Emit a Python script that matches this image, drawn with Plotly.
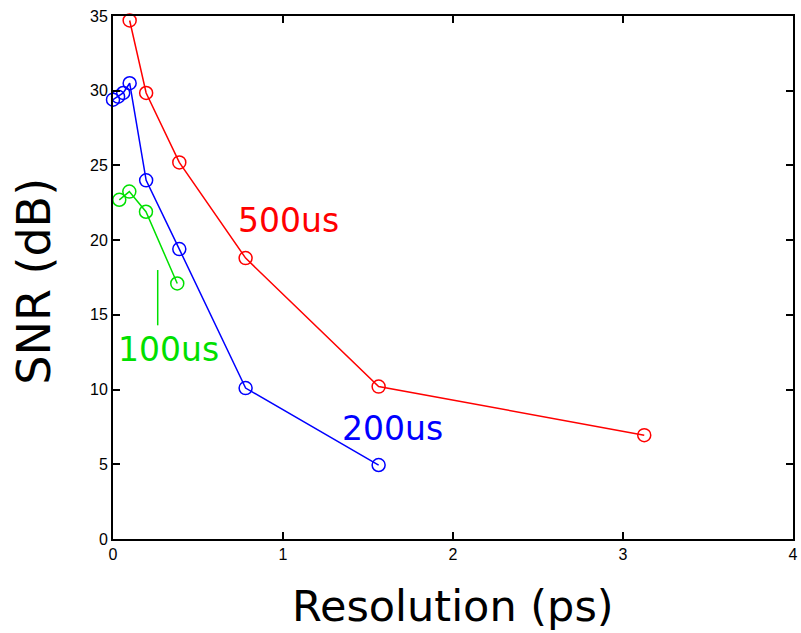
import plotly.graph_objects as go

res_500 = [0.098, 0.195, 0.39, 0.78, 1.5625, 3.125]
snr_500 = [34.7, 29.85, 25.2, 18.8, 10.2, 6.95]

res_200 = [0.0, 0.03, 0.06, 0.098, 0.195, 0.39, 0.78, 1.5625]
snr_200 = [29.4, 29.6, 29.85, 30.5, 24.0, 19.4, 10.1, 4.95]

res_100 = [0.037, 0.096, 0.194, 0.378]
snr_100 = [22.7, 23.25, 21.9, 17.1]

marker_x = [0.263, 0.263]
marker_y = [18.0, 14.3]

series = [
    (res_500, snr_500, "#ff0000", "500us"),
    (res_200, snr_200, "#0000ff", "200us"),
    (res_100, snr_100, "#00e000", "100us"),
]

fig = go.Figure()
for xs, ys, col, name in series:
    fig.add_trace(go.Scatter(
        x=xs, y=ys, mode="lines+markers", name=name,
        line=dict(color=col, width=1.5),
        marker=dict(symbol="circle-open", size=13, color=col, line=dict(width=1.5)),
        cliponaxis=False,
    ))
fig.add_trace(go.Scatter(x=marker_x, y=marker_y, mode="lines",
                         line=dict(color="#00e000", width=1.5)))

labels = [
    (0.725, 21.3, "500us", "#ff0000"),
    (0.015, 12.65, "100us", "#00e000"),
    (1.335, 7.4, "200us", "#0000ff"),
]
for x, y, t, c in labels:
    fig.add_annotation(x=x, y=y, text=t, showarrow=False, xanchor="left",
                       yanchor="middle",
                       font=dict(family="DejaVu Sans", size=33, color=c))

# axis titles
fig.add_annotation(xref="paper", yref="paper", x=0.5, y=-0.076,
                   text="Resolution (ps)", showarrow=False,
                   xanchor="center", yanchor="top",
                   font=dict(family="DejaVu Sans", size=43, color="black"))
fig.add_annotation(xref="paper", yref="paper", x=-0.158, y=0.493,
                   text="SNR (dB)", showarrow=False, textangle=-90,
                   xanchor="left", yanchor="middle",
                   font=dict(family="DejaVu Sans", size=46, color="black"))

axis_common = dict(
    showgrid=False, zeroline=False, showline=True, linecolor="black",
    linewidth=2, mirror="ticks", ticks="inside", ticklen=7, tickwidth=1.5,
    tickcolor="black", automargin=False,
    tickfont=dict(family="Liberation Sans", size=16, color="black"),
)
fig.update_xaxes(range=[0, 4], dtick=1, **axis_common)
fig.update_yaxes(range=[0, 35], dtick=5, **axis_common)
fig.update_layout(
    width=801, height=633, showlegend=False,
    paper_bgcolor="white", plot_bgcolor="white",
    margin=dict(l=113, r=8, t=16, b=94),
)
fig.write_html("out.html")
